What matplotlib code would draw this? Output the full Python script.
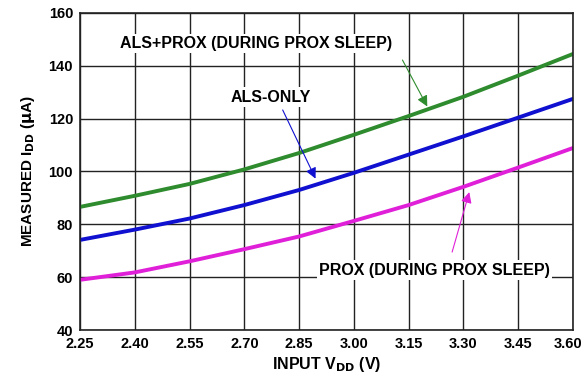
import matplotlib.pyplot as plt
import matplotlib.transforms as mtransforms
import numpy as np

plt.rcParams['font.family'] = ['Liberation Sans', 'DejaVu Sans']
plt.rcParams['font.weight'] = 'bold'

# Supply voltage (V)
vdd = [2.25, 2.40, 2.55, 2.70, 2.85, 3.00, 3.15, 3.30, 3.45, 3.60]

# Measured supply current (uA)
als_prox = [86.6, 90.8, 95.3, 100.8, 107.0, 113.9, 121.0, 128.3, 136.3, 144.5]
als_only = [74.1, 78.0, 82.2, 87.3, 93.0, 99.5, 106.4, 113.3, 120.4, 127.5]
prox = [59.0, 61.8, 66.0, 70.6, 75.4, 81.3, 87.3, 94.2, 101.5, 108.9]

xticks = [2.25, 2.40, 2.55, 2.70, 2.85, 3.00, 3.15, 3.30, 3.45, 3.60]
yticks = [40, 60, 80, 100, 120, 140, 160]

GREEN = '#2e8b2e'
BLUE = '#1010d0'
MAGENTA = '#e020d8'

fig = plt.figure(figsize=(5.86, 3.78), dpi=100)
ax = fig.add_axes([80 / 586, 1 - 330 / 378, 493 / 586, 317 / 378])

ax.plot(vdd, als_prox, color=GREEN, lw=2.8)
ax.plot(vdd, als_only, color=BLUE, lw=2.8)
ax.plot(vdd, prox, color=MAGENTA, lw=2.8)

ax.set_xlim(2.25, 3.60)
ax.set_ylim(40, 160)
ax.set_xticks(xticks)
ax.set_xticklabels([f'{t:.2f}' for t in xticks])
ax.set_yticks(yticks)
ax.grid(True, color='#222222', lw=1.0)
ax.tick_params(axis='x', length=0, labelsize=10.5, pad=5)
ax.tick_params(axis='y', length=0, labelsize=10.5, pad=5)
for s in ax.spines.values():
    s.set_color('#222222')
    s.set_linewidth(1.2)

# keep the last x tick label inside the figure
last = ax.get_xticklabels()[-1]
last.set_transform(last.get_transform() +
                   mtransforms.ScaledTranslation(-5 / 100, 0, fig.dpi_scale_trans))

ax.set_xlabel(r'INPUT V$_{\mathbf{DD}}$ (V)', fontsize=11.5, fontweight='bold', labelpad=3)
ax.set_ylabel(r'MEASURED I$_{\mathbf{DD}}$ ($\mathbf{\mu}$A)', fontsize=11,
              fontweight='bold', labelpad=8)

box = dict(facecolor='white', edgecolor='none', pad=1.5)

def label(text, x, y, color, start, tip):
    ax.text(x, y, text, ha='center', va='center', fontsize=11.5,
            fontweight='bold', bbox=box, zorder=4)
    ax.annotate('', xy=tip, xytext=start, zorder=5,
                arrowprops=dict(arrowstyle='-|>', color=color, lw=0.8,
                                shrinkA=0, shrinkB=0, mutation_scale=16))

label('ALS+PROX (DURING PROX SLEEP)', 2.732, 148.6, GREEN, (3.133, 142.2), (3.201, 124.6))
label('ALS-ONLY', 2.772, 128.2, BLUE, (2.805, 123.3), (2.895, 97.3))
label('PROX (DURING PROX SLEEP)', 3.22, 62.7, MAGENTA, (3.269, 69.5), (3.316, 92.2))

fig.savefig('out.png', dpi=100)
